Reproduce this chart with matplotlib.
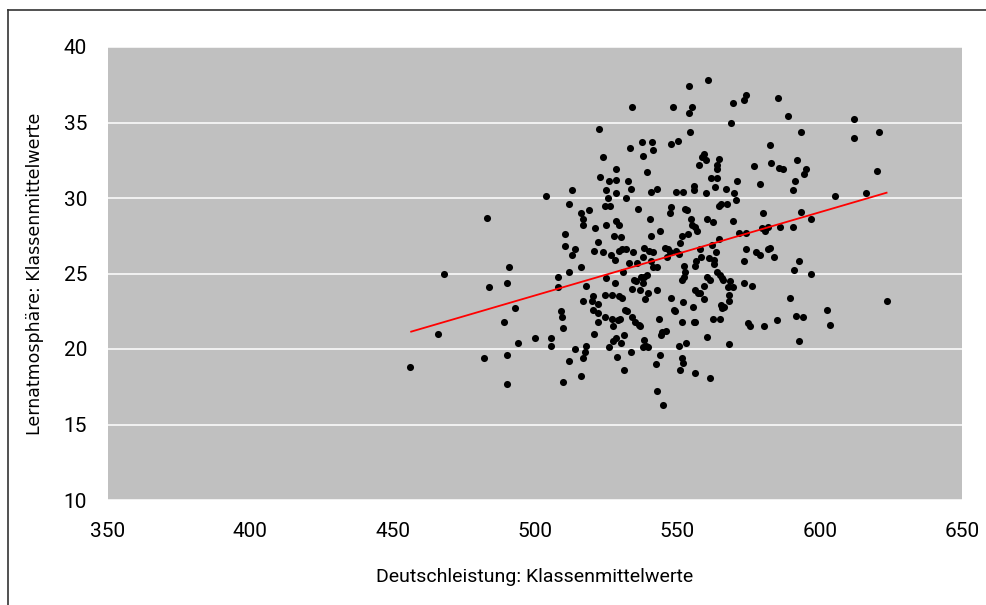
import matplotlib
matplotlib.use("Agg")
import matplotlib.pyplot as plt
from matplotlib.lines import Line2D

# class means: reading score (x) vs. learning atmosphere (y)
deutsch = [
    456, 466, 468, 482, 483, 484, 489, 490, 490, 490, 491, 493, 494, 500, 504,
    505.5, 505.5, 508, 508, 509, 509.5, 510, 509.7, 510.4, 510.4, 512, 512, 513,
    512, 513, 514, 514, 516, 516, 516, 517, 517, 517, 517, 517.5, 518, 518,
    518.8, 520, 520.5, 520.7, 520.3, 520.7, 521, 522, 522, 522, 522.5, 522, 523,
    524, 524, 524.5, 524.7, 524.5, 525, 525, 525, 525.6, 526, 526.3, 526, 526.7,
    527, 527, 527.4, 527.4, 527.8, 528, 528, 528.3, 528.3, 528.5, 528.5, 528.5,
    528.7, 529, 529.4, 529.4, 529.6, 529.8, 530.2, 530.2, 530.7, 530.7, 531,
    531.4, 531.4, 531.6, 532, 532, 532.2, 532.7, 533, 533.4, 533.6, 534, 533.8,
    534, 534.2, 534.5, 534.7, 535.1, 535.5, 535.8, 536.2, 536.4, 536.9, 536.9,
    537.5, 537.3, 537.8, 537.8, 538, 538, 538.2, 538.4, 538.4, 538.6, 538.9,
    539.3, 539.5, 539.8, 539.8, 540.2, 540.4, 540.6, 540.9, 540.9, 541.1, 541.3,
    541.3, 541.3, 542.4, 542.8, 543, 543, 543, 543.5, 543.9, 543.9, 544.1, 544.6,
    545, 545.5, 545.9, 546.2, 546.8, 547.3, 547.5, 547.7, 547.7, 547.7, 548.6,
    548.8, 549.3, 549.5, 549.7, 550.2, 550.6, 550.6, 550.8, 551, 551.5, 551.5,
    551.7, 551.7, 551.9, 552.1, 552.1, 552.3, 552.3, 552.8, 552.8, 553.2, 553.4,
    553.9, 554.1, 554.1, 554.6, 554.8, 555, 555.2, 555.4, 555.7, 555.9, 555.9,
    556.1, 556.1, 556.3, 556.3, 556.3, 556.5, 556.8, 557.2, 557.7, 557.9, 558.1,
    558.3, 558.7, 559.2, 559.4, 559.4, 559.9, 560.1, 560.3, 560.5, 560.5, 560.7,
    561, 561.4, 561.6, 561.8, 562.3, 562.5, 562.7, 562.9, 562.9, 563.4, 563.6,
    563.8, 563.8, 563.8, 563.8, 564.5, 564.5, 564.7, 564.9, 564.9, 565.2, 565.4,
    565.6, 565.8, 566.1, 566.5, 567.2, 567.6, 567.9, 568.1, 568.3, 568.3, 568.6,
    569, 569.4, 569.7, 569.7, 569.9, 570.6, 571, 571.7, 573.5, 574, 573.3, 573.5,
    574, 574.2, 574.8, 575.5, 576.2, 576.9, 577.8, 578.9, 578.9, 579.8, 580,
    580.8, 580.6, 582, 582, 582.4, 582.6, 582.9, 583.8, 584.9, 585.5, 585.7,
    586.1, 587, 589, 589.7, 590.8, 590.8, 591, 591.5, 591.7, 592.2, 592.6, 592.8,
    593.3, 593.5, 594, 594.5, 595.2, 597, 597, 602.5, 603.6, 605.4, 612, 612,
    616.4, 620.2, 620.8, 623.7,
]
atmosphaere = [
    18.8, 21.0, 25.0, 19.4, 28.7, 24.1, 21.8, 19.6, 17.7, 24.4, 25.4, 22.7, 20.4,
    20.7, 30.1, 20.7, 20.2, 24.8, 24.1, 22.5, 22.1, 21.4, 17.8, 27.6, 26.8, 19.2,
    25.1, 30.5, 29.6, 26.2, 26.6, 20.0, 18.2, 25.4, 29.0, 28.6, 28.2, 23.2, 19.4,
    19.8, 20.2, 24.2, 29.2, 23.2, 23.5, 26.5, 22.6, 21.0, 28.0, 27.1, 22.4, 21.8,
    34.6, 23.0, 31.4, 32.7, 26.4, 29.5, 23.6, 22.1, 30.5, 28.2, 24.7, 30.0, 31.1,
    29.5, 20.1, 26.2, 23.6, 22.0, 21.5, 20.5, 27.5, 25.9, 24.4, 28.5, 20.7, 31.9,
    31.2, 30.3, 19.5, 21.9, 28.2, 26.5, 23.5, 22.0, 27.4, 20.4, 26.6, 23.4, 25.1,
    20.9, 18.6, 22.6, 30.0, 26.6, 22.5, 31.1, 25.7, 33.3, 19.8, 36.0, 30.6, 24.0,
    22.1, 26.4, 24.6, 21.8, 24.5, 25.7, 29.3, 21.6, 23.9, 21.5, 33.7, 24.8, 24.4,
    20.1, 26.1, 32.8, 26.7, 24.8, 20.6, 23.3, 20.2, 31.7, 24.9, 23.7, 20.1, 26.5,
    28.6, 30.4, 27.5, 25.8, 33.7, 33.2, 25.4, 26.4, 19.0, 25.4, 30.6, 23.9, 17.2,
    22.0, 27.8, 19.6, 20.9, 21.1, 16.3, 26.7, 21.2, 26.1, 26.6, 26.4, 29.0, 33.6,
    29.4, 23.4, 36.0, 22.6, 22.5, 26.5, 30.4, 33.8, 26.3, 20.2, 18.6, 27.0, 19.4,
    27.5, 24.6, 21.8, 19.1, 30.4, 23.1, 24.8, 25.5, 25.1, 29.3, 20.4, 29.2, 27.6,
    37.4, 35.6, 34.4, 28.6, 28.2, 36.0, 22.8, 21.8, 30.5, 30.8, 28.1, 25.5, 18.4,
    21.8, 23.9, 25.8, 27.8, 23.7, 32.2, 26.6, 23.7, 26.1, 32.7, 23.3, 32.9, 24.2,
    32.5, 30.3, 28.6, 24.8, 20.8, 37.8, 26.0, 24.6, 18.1, 31.3, 26.9, 22.0, 28.4,
    25.9, 25.6, 30.7, 26.4, 32.2, 31.9, 31.3, 25.1, 29.5, 27.3, 32.6, 22.0, 24.9,
    29.6, 22.9, 24.7, 22.7, 24.6, 22.8, 30.6, 29.6, 24.1, 20.3, 23.6, 23.2, 24.5,
    34.95, 24.1, 36.3, 28.5, 30.3, 29.9, 31.1, 27.7, 36.5, 36.8, 25.8, 24.4, 26.6,
    27.7, 21.7, 21.5, 24.2, 32.1, 26.4, 30.9, 26.2, 28.0, 29.0, 27.8, 21.55, 28.1,
    26.6, 26.7, 33.5, 32.3, 26.1, 21.9, 36.6, 32.0, 28.1, 31.9, 35.4, 23.4, 28.1,
    30.5, 25.2, 31.1, 22.2, 32.5, 25.8, 20.5, 34.4, 29.1, 22.1, 31.6, 31.9, 28.6,
    25.0, 22.6, 21.6, 30.15, 35.2, 34.0, 30.3, 31.8, 34.4, 23.2,
]

# linear trend line (endpoints)
trend_x = [456.5, 623.5]
trend_y = [21.15, 30.35]

x_ticks = [350, 400, 450, 500, 550, 600, 650]
y_ticks = [10, 15, 20, 25, 30, 35, 40]

narrow = "Roboto"

fig = plt.figure(figsize=(9.86, 6.05), dpi=100)
ax = fig.add_axes([108 / 986, 1 - 500 / 605, (962 - 108) / 986, (500 - 47) / 605])
ax.set_facecolor("#c0c0c0")

ax.set_xlim(350, 650)
ax.set_ylim(10, 40)
ax.set_xticks(x_ticks)
ax.set_yticks(y_ticks)
ax.yaxis.grid(True, color="white", linewidth=1.1)
ax.set_axisbelow(True)
for s in ax.spines.values():
    s.set_visible(False)
ax.tick_params(length=0, labelsize=15)
ax.tick_params(axis="x", pad=16)
ax.tick_params(axis="y", pad=15)
for lab in ax.get_xticklabels() + ax.get_yticklabels():
    lab.set_family(narrow)

ax.scatter(deutsch, atmosphaere, s=26, color="black", linewidths=0, zorder=3)
ax.plot(trend_x, trend_y, color="red", linewidth=1.3, zorder=4)

ax.set_xlabel("Deutschleistung: Klassenmittelwerte", family=narrow,
              fontsize=14, labelpad=19)
ax.set_ylabel("Lernatmosphäre: Klassenmittelwerte", fontsize=12.5, labelpad=14)

# frame lines of the original chart box (top and left only visible)
fig.add_artist(Line2D([8 / 986, 1], [1 - 10 / 605, 1 - 10 / 605],
                      transform=fig.transFigure, color="#333333", linewidth=1.2))
fig.add_artist(Line2D([8 / 986, 8 / 986], [0, 1 - 10 / 605],
                      transform=fig.transFigure, color="#333333", linewidth=1.2))

fig.savefig("out.png", dpi=100)
